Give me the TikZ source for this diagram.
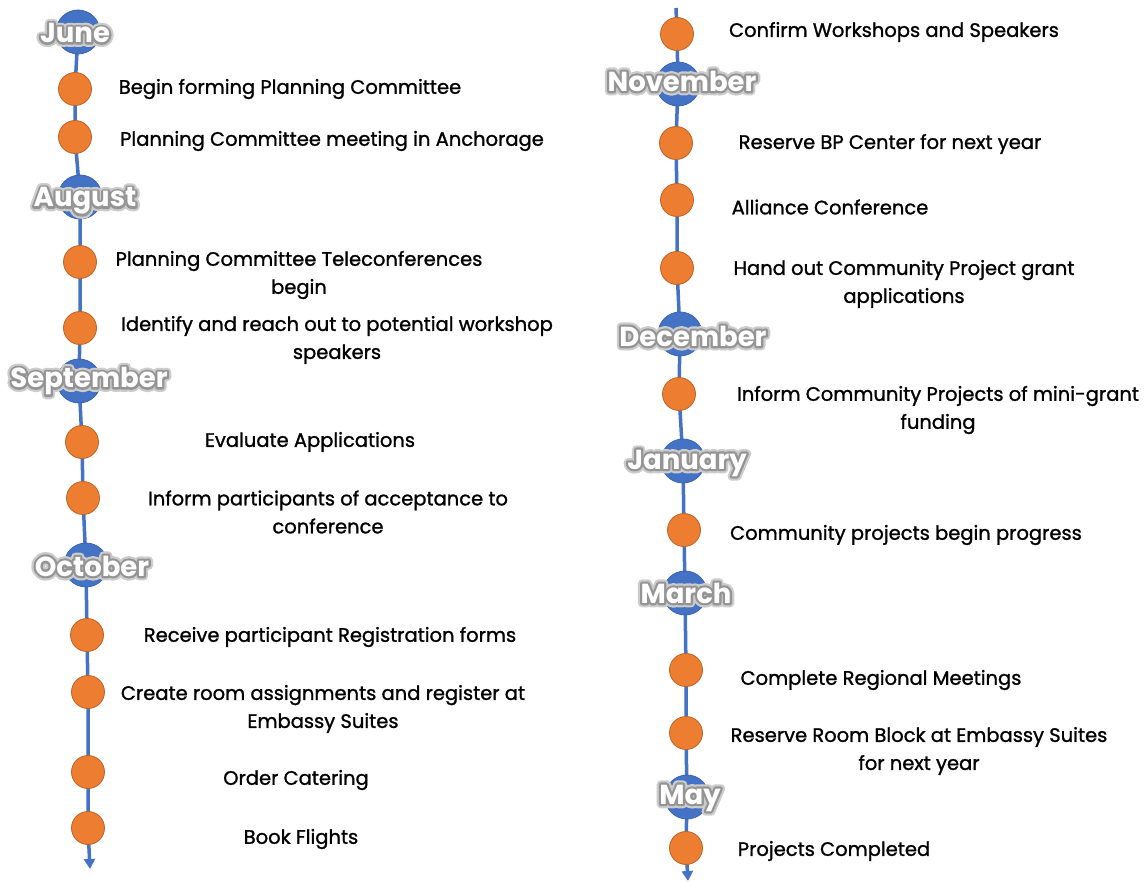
\documentclass[tikz,border=0pt]{standalone}
\usepackage{fontspec}
\setmainfont{Poppins}
\newfontfamily\evfont{Poppins}[FakeBold=1.2]
\newfontfamily\glowouter{Poppins}[BoldFont=*-Bold, BoldFeatures={FakeBold=32}]
\newfontfamily\glowinner{Poppins}[BoldFont=*-Bold, BoldFeatures={FakeBold=16}]
\usetikzlibrary{arrows.meta,backgrounds}
\definecolor{oblue}{HTML}{4472C4}
\definecolor{obluedark}{HTML}{3A64B0}
\definecolor{oorange}{HTML}{ED7D31}
\definecolor{oorangedark}{HTML}{B8642A}
\definecolor{glowa}{gray}{0.80}
\definecolor{glowb}{gray}{0.58}
\newcommand\mlab[1]{%
\special{pdf:code 1 j 1 J}%
\rlap{\glowouter\bfseries\color{glowa}#1}%
\rlap{\glowinner\bfseries\color{glowb}#1}%
\textcolor{white}{#1}}
\tikzset{
  month/.style={circle, fill=oblue, draw=obluedark, line width=0.8pt, minimum size=44pt, inner sep=0pt},
  monthlab/.style={inner sep=0pt, font=\fontsize{27.5}{27.5}\selectfont\bfseries},
  event/.style={circle, fill=oorange, draw=oorangedark, line width=0.8pt, minimum size=33pt, inner sep=0pt},
  evtext/.style={align=center, inner sep=0pt, text=black, font=\evfont\fontsize{19.5}{28}\selectfont},
  tline/.style={draw=oblue, line width=3.5pt},
  tarrow/.style={tline, -{Triangle[width=11pt,length=10pt]}},
}
\begin{document}
\begin{tikzpicture}[x=1pt,y=-1pt]
\useasboundingbox (0,0) rectangle (1146,882);
% ---------- left column ----------
\node[month] (jun) at (78,32) {};
\node[event] (l1) at (75,89) {};
\node[event] (l2) at (75,137) {};
\node[month] (aug) at (80,197) {};
\node[event] (l3) at (80,262) {};
\node[event] (l4) at (80,328) {};
\node[month] (sep) at (79,381) {};
\node[event] (l5) at (82,442) {};
\node[event] (l6) at (83,498) {};
\node[month] (oct) at (86,565) {};
\node[event] (l7) at (87,635) {};
\node[event] (l8) at (88,692) {};
\node[event] (l9) at (88,772) {};
\node[event] (l10) at (88,828) {};
\coordinate (lend) at (90,869);
% ---------- right column ----------
\coordinate (rtop) at (676,8);
\node[event] (r1) at (677,34) {};
\node[month] (nov) at (678,84) {};
\node[event] (r2) at (676,143) {};
\node[event] (r3) at (677,200) {};
\node[event] (r4) at (677,268) {};
\node[month] (dec) at (680,334) {};
\node[event] (r5) at (679,394) {};
\node[month] (jan) at (683,461) {};
\node[event] (r6) at (684,530) {};
\node[month] (mar) at (685,593) {};
\node[event] (r7) at (686,670) {};
\node[event] (r8) at (686,733) {};
\node[month] (may) at (687,797) {};
\node[event] (r9) at (686,848) {};
\coordinate (rend) at (688,881);
% ---------- timeline lines ----------
\begin{scope}[on background layer]
\draw[tline] (jun.center) -- (l1.center) -- (l2.center) -- (aug.center) -- (l3.center) -- (l4.center) -- (sep.center) -- (l5.center) -- (l6.center) -- (oct.center) -- (l7.center) -- (l8.center) -- (l9.center) -- (l10.center);
\draw[tarrow] (l10.center) -- (lend);
\draw[tline] (rtop) -- (r1.center) -- (nov.center) -- (r2.center) -- (r3.center) -- (r4.center) -- (dec.center) -- (r5.center) -- (jan.center) -- (r6.center) -- (mar.center) -- (r7.center) -- (r8.center) -- (may.center) -- (r9.center);
\draw[tarrow] (r9.center) -- (rend);
\end{scope}
% ---------- month labels ----------
\node[monthlab] (tjun) at (75,33) {\mlab{June}};
\node[monthlab] (taug) at (85,201) {\mlab{August}};
\node[monthlab] (tsep) at (89,381) {\mlab{September}};
\node[monthlab] (toct) at (92,566) {\mlab{October}};
\node[monthlab] (tnov) at (682,81) {\mlab{November}};
\node[monthlab] (tdec) at (693,336) {\mlab{December}};
\node[monthlab] (tjan) at (687,463) {\mlab{January}};
\node[monthlab] (tmar) at (686,593) {\mlab{March}};
\node[monthlab] (tmay) at (690,798) {\mlab{May}};
% ---------- event texts ----------
\node[evtext] (x1) at (290,89) {Begin forming Planning Committee};
\node[evtext] (x2) at (332,141) {Planning Committee meeting in Anchorage};
\node[evtext] (x3) at (299,275) {Planning Committee Teleconferences\\begin};
\node[evtext] (x4) at (337,340) {Identify and reach out to potential workshop\\speakers};
\node[evtext] (x5) at (310,442) {Evaluate Applications};
\node[evtext] (x6) at (328,512) {Inform participants of acceptance to\\conference};
\node[evtext] (x7) at (330,637) {Receive participant Registration forms};
\node[evtext] (x8) at (323,709) {Create room assignments and register at\\Embassy Suites};
\node[evtext] (x9) at (296,780) {Order Catering};
\node[evtext] (x10) at (301,839) {Book Flights};
\node[evtext] (y1) at (894,32) {Confirm Workshops and Speakers};
\node[evtext] (y2) at (890,144) {Reserve BP Center for next year};
\node[evtext] (y3) at (830,207) {Alliance Conference};
\node[evtext] (y4) at (904,284) {Hand out Community Project grant\\applications};
\node[evtext] (y5) at (938,410) {Inform Community Projects of mini-grant\\funding};
\node[evtext] (y6) at (906,535) {Community projects begin progress};
\node[evtext] (y7) at (881,680) {Complete Regional Meetings};
\node[evtext] (y8) at (919,751) {Reserve Room Block at Embassy Suites\\for next year};
\node[evtext] (y9) at (834,851) {Projects Completed};
\end{tikzpicture}
\end{document}
